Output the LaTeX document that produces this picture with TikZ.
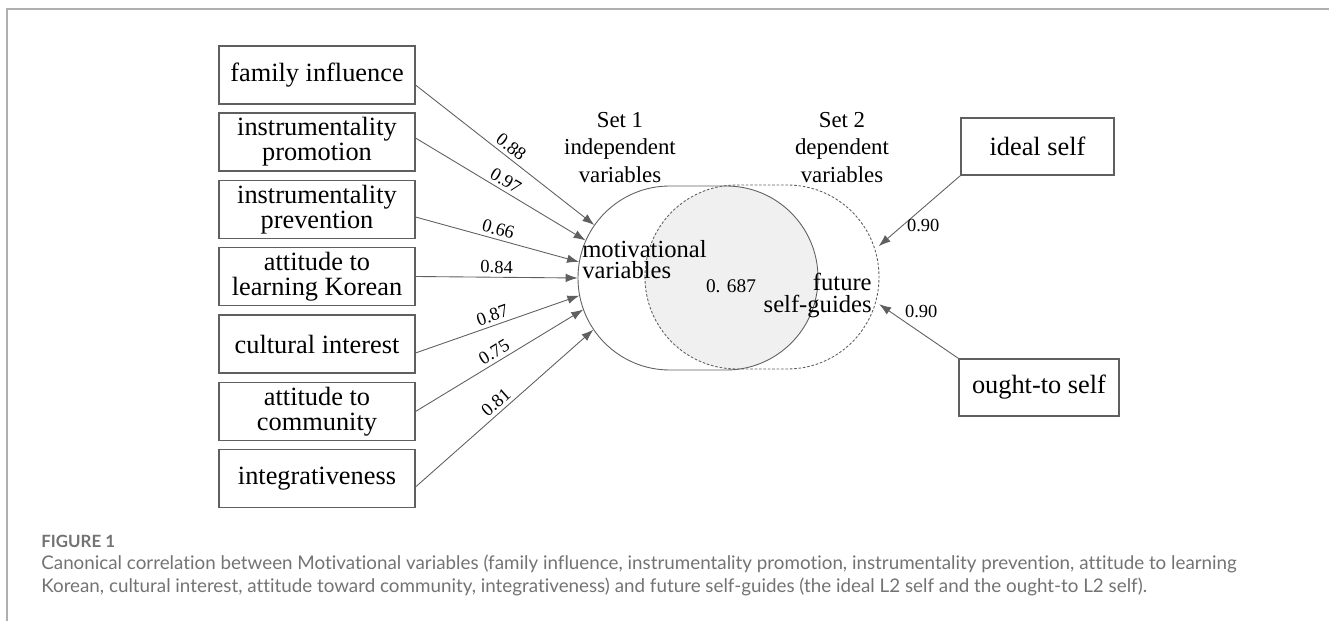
\documentclass[tikz,border=0pt]{standalone}
\usepackage{fontspec}
\setmainfont{Liberation Serif}
\newfontfamily\capfont[Ligatures=NoCommon]{Lato}
\usetikzlibrary{arrows.meta}
\definecolor{LineGray}{RGB}{95,95,95}
\definecolor{FrameGray}{RGB}{175,175,175}
\definecolor{CapGray}{RGB}{115,115,115}

\begin{document}
\begin{tikzpicture}[
    x=0.02cm, y=-0.02cm,
    box/.style={draw=LineGray, line width=0.6pt, minimum width=3.92cm, minimum height=1.16cm, align=center, inner sep=1pt, font=\fontsize{15}{14.2}\selectfont},
    arr/.style={-{Latex[length=0.24cm, width=0.17cm]}, LineGray, line width=0.5pt},
    val/.style={font=\fontsize{10.5}{12}\selectfont, text=black, inner sep=2pt},
    setlbl/.style={align=center, inner sep=0pt, anchor=north, font=\fontsize{13}{15.6}\selectfont},
    varlbl/.style={inner sep=0pt, font=\fontsize{14}{12.2}\selectfont}
]
    \useasboundingbox (0,0) rectangle (1329,621);
    % frame of the figure
    \draw[FrameGray, line width=0.8pt] (1329,9) -- (7,9) -- (7,621);

    % the two sets
    \begin{scope}
        \clip[rounded corners=1.835cm] (578,186) rectangle (818,370);
        \fill[gray!12, rounded corners=1.835cm] (645,185) rectangle (879,369);
    \end{scope}
    \draw[LineGray, line width=0.5pt, rounded corners=1.835cm] (578,186) rectangle (818,370);
    \draw[LineGray, line width=0.5pt, dash pattern=on 1.5pt off 1pt, rounded corners=1.835cm] (645,185) rectangle (879,369);
    \node[circle, minimum size=3.68cm, inner sep=0pt] (setone) at (670,278) {};
    \node[circle, minimum size=3.84cm, inner sep=0pt] (settwo) at (787,276) {};

    \node[setlbl] (setonelbl) at (620,112) {Set 1\\independent\\variables};
    \node[setlbl] (settwolbl) at (842,112) {Set 2\\dependent\\variables};
    \node[varlbl, align=left, anchor=north west] (motlbl) at (582,240) {motivational\\variables};
    \node[varlbl, align=right, anchor=north east] (futlbl) at (872,273) {future\\self-guides};
    \node[font=\fontsize{11}{12}\selectfont, inner sep=0pt] (corr) at (731,286) {0. 687};

    % set 1 variables
    \node[box] (fam) at (317,75) {family influence};
    \node[box] (promo) at (317,142) {instrumentality\\promotion};
    \node[box] (prev) at (317,209.5) {instrumentality\\prevention};
    \node[box] (learn) at (317,276.5) {attitude to\\learning Korean};
    \node[box] (cult) at (317,344) {cultural interest};
    \node[box] (comm) at (317,411.5) {attitude to\\community};
    \node[box] (integ) at (317,478.5) {integrativeness};

    % set 2 variables
    \node[box, minimum width=3.06cm, minimum height=1.14cm] (ideal) at (1037.5,146.5) {ideal self};
    \node[box, minimum width=3.2cm, minimum height=1.14cm] (ought) at (1039,387.5) {ought-to self};

    \draw[arr] ([yshift=-0.2cm]fam.east) -- node[val, sloped, above, pos=0.5] {0.88} (setone.145);
    \draw[arr] ([yshift=0.08cm]promo.east) -- node[val, sloped, above, pos=0.5] {0.97} (setone.156);
    \draw[arr] ([yshift=-0.15cm]prev.east) -- node[val, sloped, above, pos=0.49] {0.66} (setone.170);
    \draw[arr] (learn.east) -- node[val, sloped, above, pos=0.5] {0.84} (setone.180);
    \draw[arr] ([yshift=-0.18cm]cult.east) -- node[val, sloped, above, pos=0.49] {0.87} (setone.191);
    \draw[arr] (comm.east) -- node[val, sloped, above, pos=0.5] {0.75} (setone.200);
    \draw[arr] ([yshift=-0.17cm]integ.east) -- node[val, sloped, above, pos=0.49] {0.81} (setone.214);

    \draw[arr] (ideal.south west) -- node[val, pos=0.7, anchor=west] {0.90} (settwo.18);
    \draw[arr] (ought.north west) -- node[val, pos=0.7, anchor=south west, inner sep=1pt] {0.90} (settwo.343);

    % caption
    \node[anchor=west, inner sep=0pt, text=CapGray, font=\capfont\bfseries\fontsize{9.6}{11}\selectfont] (fig) at (41,541) {FIGURE 1};
    \node[anchor=base west, inner sep=0pt, text=CapGray, font=\capfont\fontsize{10.7}{12}\selectfont] (capone) at (41,569) {Canonical correlation between Motivational variables (family influence, instrumentality promotion, instrumentality prevention, attitude to learning};
    \node[anchor=base west, inner sep=0pt, text=CapGray, font=\capfont\fontsize{10.7}{12}\selectfont] (captwo) at (41,592) {Korean, cultural interest, attitude toward community, integrativeness) and future self-guides (the ideal L2 self and the ought-to L2 self).};
\end{tikzpicture}
\end{document}
